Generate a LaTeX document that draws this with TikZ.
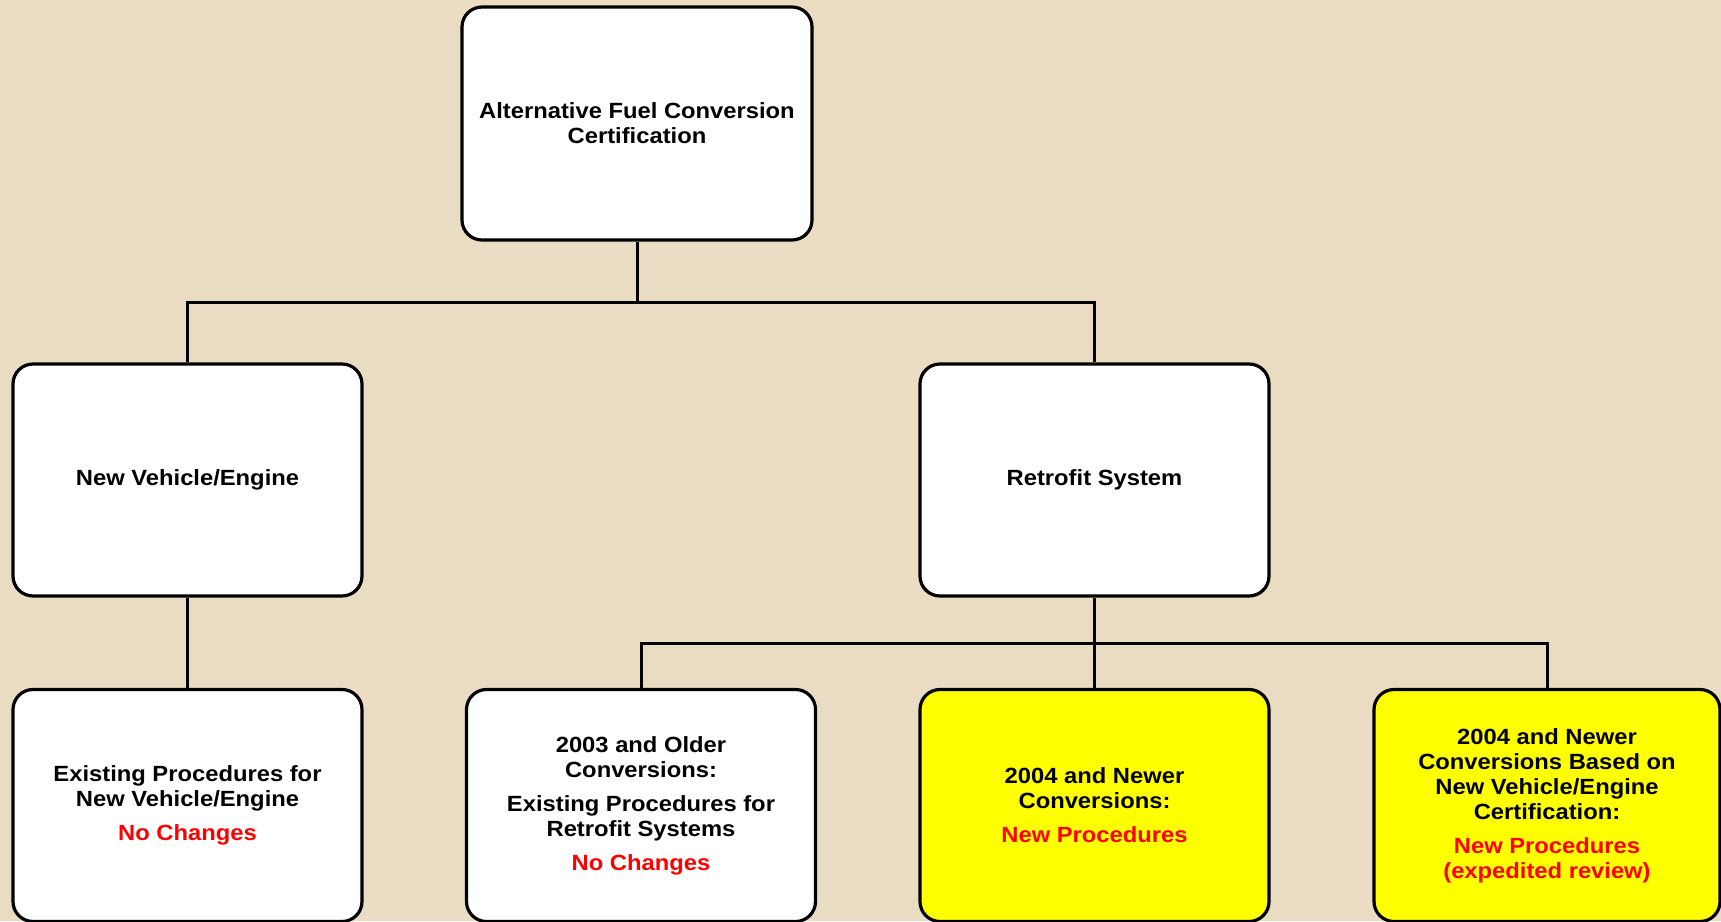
\documentclass[tikz,border=0pt]{standalone}
\usepackage{fontspec}
\setmainfont{Liberation Sans}[FakeStretch=1.08]
\definecolor{paper}{RGB}{234,220,195}
\definecolor{mark}{RGB}{255,255,0}
\definecolor{note}{RGB}{255,0,0}

\tikzset{
  box/.style={draw=black, line width=3.2pt, fill=white, rounded corners=20pt,
    minimum width=349pt, minimum height=232pt, align=center,
    font=\fontsize{22}{25}\selectfont\bfseries, inner sep=0pt},
  newbox/.style={box, fill=mark},
  link/.style={draw=black, line width=3pt}
}

\begin{document}
\begin{tikzpicture}[x=1pt, y=-1pt]

% Background page
\fill[paper] (0,0) rectangle (1721,921);
\useasboundingbox (0,0) rectangle (1721,921);

% Top node
\node[box, minimum width=350pt, minimum height=233pt] (cert) at (637,123.5)
  {Alternative Fuel Conversion\\Certification};

% Middle row
\node[box] (newveh) at (187.5,480) {New Vehicle/Engine};
\node[box] (retro)  at (1094.5,480) {Retrofit System};

% Bottom row
\node[box] (exist) at (187.5,805.5)
  {Existing Procedures for\\New Vehicle/Engine\\[9pt]\textcolor{note}{No Changes}};
\node[box] (old) at (641,805.5)
  {2003 and Older\\Conversions:\\[9pt]Existing Procedures for\\Retrofit Systems\\[9pt]\textcolor{note}{No Changes}};
\node[newbox] (newer) at (1094.5,805.5)
  {2004 and Newer\\Conversions:\\[9pt]\textcolor{note}{New Procedures}};
\node[newbox, minimum width=346pt] (based) at (1547,805.5)
  {2004 and Newer\\Conversions Based on\\New Vehicle/Engine\\Certification:\\[9pt]\textcolor{note}{New Procedures}\\\textcolor{note}{(expedited review)}};

% Branch points
\coordinate (split)  at (637,302);
\coordinate (split2) at (1094.5,643);

% Connectors from the top node
\draw[link] (cert.south) -- (split);
\draw[link] (newveh.north) -- (newveh.north |- split) -- (retro.north |- split) -- (retro.north);

% Connectors below the middle row
\draw[link] (newveh.south) -- (exist.north);
\draw[link] (retro.south) -- (split2) -- (newer.north);
\draw[link] (old.north) -- (old.north |- split2) -- (based.north |- split2) -- (based.north);

\end{tikzpicture}
\end{document}
